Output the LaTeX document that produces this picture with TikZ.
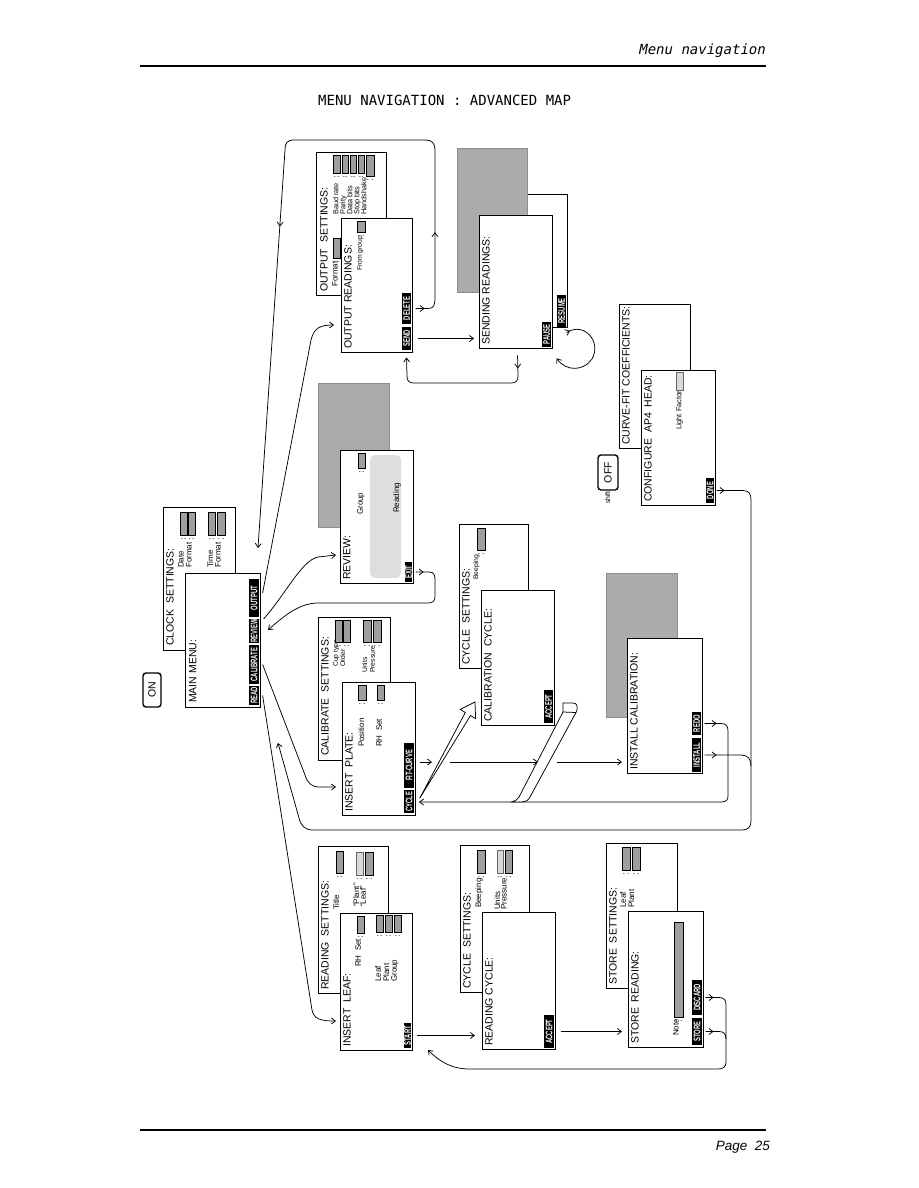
\documentclass[tikz,border=0pt]{standalone}
\usepackage{fontspec}
\setmainfont{Liberation Sans}
\newfontfamily\monof{DejaVu Sans Mono}
\usepackage{graphicx}
\usetikzlibrary{arrows.meta,decorations.markings,fit,calc}

\newcommand\ttlf{\fontsize{10.5}{12}\selectfont}
\newcommand\lblf{\fontsize{8}{9}\selectfont}
\newcommand\smlf{\fontsize{6.8}{7}\selectfont}
\newcommand\smlbf{\fontsize{7.3}{8}\selectfont}
\newcommand\btnf{\fontsize{9.5}{10}\selectfont\bfseries}

\tikzset{
 scr/.style={draw, line width=0.9pt, fill=white, inner sep=0pt},
 shd/.style={fill=black!33, draw=black!45, line width=0.3pt, inner sep=0pt},
 btnfill/.style={fill=black, inner sep=0pt},
 btxt/.style={rotate=90, text=white, font=\btnf, inner sep=0pt},
 ttl/.style={rotate=90, anchor=north west, inner sep=0pt, font=\ttlf},
 lbl/.style={rotate=90, anchor=north west, inner sep=0pt, font=\lblf},
 sml/.style={rotate=90, anchor=north west, inner sep=0pt, font=\smlf},
 smlb/.style={rotate=90, anchor=north west, inner sep=0pt, font=\smlbf},
 fld/.style={draw, line width=0.4pt, fill=black!38},
 lfld/.style={draw=black!60, line width=0.4pt, fill=black!15},
 conn/.style={line width=0.75pt},
 arr/.style={conn, -{Straight Barb[length=4pt,width=6pt]}},
 midarr/.style={postaction={decorate,decoration={markings,mark=at position #1 with {\arrow{Straight Barb[length=4pt,width=6pt]}}}}},
 keyb/.style={draw, line width=1.4pt, rounded corners=3pt, inner sep=0pt},
}

\newcommand\scrbox[5]{\node[scr, fit={(#2,#3)(#4,#5)}] (#1) {};}
\newcommand\btnbox[6]{\node[btnfill, fit={(#2,#3)(#4,#5)}] (#1) {};\node[btxt] (#1-t) at (#1.center) {\scalebox{0.62}[1]{#6}};}
\newcommand\fieldbox[5][fld]{\draw[#1] (#2,#3) rectangle (#4,#5);\fill ($(#2,#5)+(1.8,3.5)$) circle (0.5pt) ($(#4,#5)+(-1.8,3.5)$) circle (0.5pt);}

\begin{document}
\begin{tikzpicture}[x=1pt,y=-1pt]
\fill[white] (0,0) rectangle (918,1188);
\useasboundingbox (0,0) rectangle (918,1188);

% ---------- page header / footer ----------
\node[font=\monof\itshape\fontsize{14}{16}\selectfont, anchor=base east, inner sep=0pt] (hdr) at (766,55) {Menu navigation};
\draw[line width=1.1pt] (140,66) -- (766,66);
\node[font=\monof\fontsize{14}{16}\selectfont, anchor=base west, inner sep=0pt] (title) at (318,106) {MENU NAVIGATION : ADVANCED MAP};
\draw[line width=1.1pt] (140,1130) -- (766,1130);
\node[font=\itshape\fontsize{13.5}{15}\selectfont, anchor=base east, inner sep=0pt] (pg) at (770,1150) {Page\ \ 25};

% ---------- ON key ----------
\node[keyb, fit={(143,673)(161,707)}] (onkey) {};
\node[rotate=90, font=\ttlf, inner sep=0pt] (onkey-t) at (onkey.center) {ON};

% ---------- CLOCK SETTINGS / MAIN MENU ----------
\scrbox{clockset}{163}{507}{235}{650}
\node[ttl] (clockset-t) at (166,646) {CLOCK\ \ SETTINGS:};
\node[lbl] (cl1) at (178,568) {Date};
\node[lbl] (cl2) at (186,568) {Format};
\node[lbl] (cl3) at (207,568) {Time};
\node[lbl] (cl4) at (215,568) {Format};
\fieldbox{180}{512}{187}{535}
\fieldbox{188}{512}{195}{535}
\fieldbox{208}{512}{215}{535}
\fieldbox{217}{512}{225}{535}

\scrbox{mainmenu}{185}{573}{260}{707}
\node[ttl] (mainmenu-t) at (189,703) {MAIN MENU:};
\btnbox{readb}{249}{686}{259.4}{705}{READ}
\btnbox{calb}{249}{645}{259.4}{684}{CALIBRATE}
\btnbox{revb}{249}{619}{259.4}{643}{REVIEW}
\btnbox{outb}{249}{579}{259.4}{617}{OUTPUT}

% ---------- OUTPUT SETTINGS / OUTPUT READINGS ----------
\scrbox{outset}{316}{152}{386}{295}
\node[ttl] (outset-t) at (320,292) {OUTPUT\ \ SETTINGS:};
\node[lbl] (fmt) at (332,287) {Format};
\fieldbox{333}{238}{340}{258}
\node[smlb] (o1) at (333,215) {Baud rate};
\node[smlb] (o2) at (340,215) {Parity};
\node[smlb] (o3) at (347,215) {Data bits};
\node[smlb] (o4) at (354,215) {Stop bits};
\node[smlb] (o5) at (361,215) {Handshake};
\fieldbox{333}{155}{340}{173}
\fieldbox{342}{155}{348}{173}
\fieldbox{350}{155}{356}{173}
\fieldbox{358}{155}{364}{173}
\fieldbox{366}{155}{374}{176}

\scrbox{outread}{341}{218}{412}{352}
\node[ttl] (outread-t) at (344,349) {OUTPUT READINGS:};
\node[sml] (fromg) at (357,271) {From group};
\fieldbox{357}{221}{365}{232}
\btnbox{sendb}{402}{327}{411.4}{350}{SEND}
\btnbox{delb}{402}{293}{411.4}{324}{DELETE}

% ---------- SENDING READINGS ----------
\scrbox{pausebox}{500}{194}{567}{327}
\node[shd, fit={(457,148)(527,292)}] (sendshd) {};
\scrbox{sending}{479}{215}{552}{348}
\node[ttl] (sending-t) at (482,345) {SENDING READINGS:};
\btnbox{pauseb}{542}{322}{551.4}{347}{PAUSE}
\btnbox{resumeb}{557}{295}{566.4}{326.5}{RESUME}

% ---------- REVIEW ----------
\node[shd, fit={(318,383)(389,527)}] (revshd) {};
\scrbox{review}{340}{450}{413}{583}
\node[ttl] (review-t) at (343,580) {REVIEW:};
\fill[black!13, rounded corners=5pt] (370,455) rectangle (401,578);
\node[lbl] (grp) at (357,515) {Group};
\fieldbox{358}{453}{365}{468}
\node[lbl] (rdg) at (393,513) {Reading};
\btnbox{exitb}{405}{562}{412.4}{582}{EXIT}

% ---------- CURVE-FIT / CONFIGURE ----------
\scrbox{cfc}{619}{304}{690}{448}
\node[ttl] (cfc-t) at (622,445) {CURVE-FIT COEFFICIENTS:};
\scrbox{conf}{641}{370}{715}{505}
\node[ttl] (conf-t) at (644,502) {CONFIGURE\ \ AP4\ \ HEAD:};
\node[smlb] (lf) at (676,430) {Light Factor:};
\fieldbox[lfld]{676}{372}{683}{390}
\btnbox{doneb}{706}{478}{714.4}{503}{DONE}
\node[keyb, fit={(598,455)(618,490)}] (offkey) {};
\node[rotate=90, font=\ttlf, inner sep=0pt] (offkey-t) at (offkey.center) {OFF};
\node[sml] (shift) at (605,504) {shift};

% ---------- CALIBRATE SETTINGS / INSERT PLATE ----------
\scrbox{calset}{318}{617}{390}{760}
\node[ttl] (calset-t) at (321,756) {CALIBRATE\ \ SETTINGS:};
\node[sml] (c1) at (333,667) {Cup type};
\node[sml] (c2) at (340,667) {Order};
\node[sml] (c3) at (362,673) {Units};
\node[sml] (c4) at (370,673) {Pressure};
\fieldbox{335}{620}{342}{642}
\fieldbox{343}{620}{350}{642}
\fieldbox{363}{620}{371}{642}
\fieldbox{373}{620}{381}{642}

\scrbox{insplate}{342}{682}{415}{815}
\node[ttl] (insplate-t) at (345,812) {INSERT\ \ PLATE:};
\node[lbl] (pos) at (358,747) {Position};
\fieldbox{358}{685}{366}{700}
\node[lbl] (rhs1) at (376,747) {RH\ \ Set};
\fieldbox{377}{685}{384}{700}
\btnbox{cycb}{404}{790}{414.4}{813}{CYCLE}
\btnbox{fitb}{404}{743}{414.4}{788}{FIT-CURVE}

% ---------- CYCLE SETTINGS / CALIBRATION CYCLE ----------
\scrbox{cycset1}{459}{524}{528}{668}
\node[ttl] (cycset1-t) at (462,665) {CYCLE\ \ SETTINGS:};
\node[sml] (beep1) at (473,580) {Beeping};
\fieldbox{477}{528}{485}{550}
\scrbox{calcyc}{481}{590}{554}{725}
\node[ttl] (calcyc-t) at (484,722) {CALIBRATION\ \ CYCLE:};
\btnbox{acc1}{544}{690}{553.4}{723}{ACCEPT}

% ---------- INSTALL CALIBRATION ----------
\node[shd, fit={(606,573)(677,717)}] (instshd) {};
\scrbox{install}{627}{638}{702}{773}
\node[ttl] (install-t) at (630,770) {INSTALL CALIBRATION:};
\btnbox{installb}{692}{738}{701.4}{772}{INSTALL}
\btnbox{redob}{692}{712}{701.4}{735}{REDO}

% ---------- READING SETTINGS / INSERT LEAF ----------
\scrbox{readset}{318}{846}{388}{993}
\node[ttl] (readset-t) at (321,990) {READING\ \ SETTINGS:};
\node[lbl] (tl) at (333,910) {Title};
\fieldbox{336}{851}{343}{873}
\node[lbl] (qp) at (353,907) {“Plant”};
\node[lbl] (ql) at (360,907) {“Leaf”};
\fieldbox[lfld]{356}{852}{363}{875}
\fieldbox{365}{852}{373}{875}

\scrbox{insleaf}{340}{913}{412}{1050}
\node[ttl] (insleaf-t) at (343,1047) {INSERT\ \ LEAF:};
\node[lbl] (rhs2) at (355,967) {RH\ \ Set};
\fieldbox{357}{916}{364}{933}
\node[lbl] (lleaf) at (375,982) {Leaf};
\node[lbl] (lplant) at (383,982) {Plant};
\node[lbl] (lgroup) at (391,982) {Group};
\fieldbox{376}{915}{383}{932}
\fieldbox{385}{915}{392}{932}
\fieldbox{394}{915}{401}{932}
\btnbox{startb}{404}{1023}{411.4}{1048}{START}

% ---------- CYCLE SETTINGS / READING CYCLE ----------
\scrbox{cycset2}{460}{845}{529}{992}
\node[ttl] (cycset2-t) at (463,989) {CYCLE\ \ SETTINGS:};
\node[lbl] (beep2) at (475,908) {Beeping};
\fieldbox{477}{850}{485}{873}
\node[lbl] (units2) at (494,910) {Units};
\node[lbl] (press2) at (501,910) {Pressure};
\fieldbox[lfld]{497}{850}{503}{873}
\fieldbox{505}{850}{512}{873}
\scrbox{readcyc}{482}{912}{555}{1049}
\node[ttl] (readcyc-t) at (485,1046) {READING CYCLE:};
\btnbox{acc2}{544}{1015}{554.4}{1048}{ACCEPT}

% ---------- STORE SETTINGS / STORE READING ----------
\scrbox{storeset}{606}{843}{677}{988}
\node[ttl] (storeset-t) at (609,985) {STORE\ \ SETTINGS:};
\node[lbl] (sleaf) at (620,908) {Leaf};
\node[lbl] (splant) at (628,908) {Plant};
\fieldbox{622}{847}{630}{870}
\fieldbox{632}{847}{640}{870}
\scrbox{storeread}{628}{911}{703}{1047}
\node[ttl] (storeread-t) at (631,1044) {STORE\ \ READING:};
\node[lbl] (notes) at (673,1036) {Notes};
\fieldbox{674}{922}{683}{1017}
\btnbox{storeb}{692}{1018}{702.4}{1045}{STORE}
\btnbox{discb}{692}{980}{702.4}{1015}{DISCARD}

% ---------- free-end coordinates ----------
\coordinate (outin) at (334,325);
\coordinate (mmtop) at (258,548);
\coordinate (sendin) at (474,338.5);
\coordinate (revin) at (336,555);
\coordinate (mmin) at (268,630);
\coordinate (ipin) at (336,787);
\coordinate (ilin) at (336,1021);
\coordinate (retend) at (278,743);
\coordinate (joinI) at (751,766);
\coordinate (cycin) at (419,802);
\coordinate (instin) at (622,762);
\coordinate (rcin) at (475,1035.5);
\coordinate (srin) at (622,1031.5);
\coordinate (ilret) at (428,1050);
\coordinate (joinS) at (726,1039);

% ---------- connectors ----------
\draw[arr] ([xshift=3pt,yshift=5pt]outb.east) -- (311,340) .. controls (314,328) and (320,325) .. (outin);
\draw[arr, midarr=9pt, midarr=93pt, midarr=415pt] ([xshift=4pt]delb.east) -- (428,308.5) .. controls (434,308.5) and (435,305) .. (435,298) -- (435,150) .. controls (435,143) and (432,140) .. (425,140) -- (294,140) .. controls (287,140) and (285,143) .. (285,150) -- (mmtop);
\draw[arr] ([xshift=6pt]sendb.east) -- (sendin);
\draw[arr, midarr=13pt] ($(sending.south west)+(39,7)$) -- (518,376) .. controls (518,381) and (516,383) .. (511,383) -- (414,383) .. controls (409,383) and (407,381) .. (407,376) -- ($(outread.south west)+(66,5)$);
\draw[arr, midarr=4pt] ($(resumeb.south east)+(0,6)$) .. controls (584,321) and (602,342) .. (592,359) .. controls (584,371) and (566,372) .. ($(pauseb.south east)+(5,11)$);
\draw[arr] ([xshift=4pt,yshift=12pt]revb.east) .. controls (285,595) and (302,560) .. (318,557) -- (revin);
\draw[arr, midarr=8pt] ([xshift=3pt]exitb.east) -- (429,572) .. controls (434,572) and (435,575) .. (435,580) -- (435,596) .. controls (435,601) and (433,603) .. (428,603) -- (318,603) .. controls (300,603) and (285,615) .. (mmin);
\draw[arr] ([xshift=3pt]calb.east) -- (305,775) .. controls (308,784) and (312,787) .. (320,787) -- (ipin);
\draw[arr] ([xshift=3pt]readb.east) -- (312,1010) .. controls (314,1019) and (320,1021) .. (ilin);
\draw[arr, midarr=8pt] ([xshift=2pt]doneb.east) -- (743,490.5) .. controls (749,490.5) and (751,494) .. (751,500) -- (751,821) .. controls (751,827) and (748,830) .. (742,830) -- (313,830) .. controls (305,830) and (301,826) .. (299,818) -- (retend);
\draw[conn, midarr=12pt] ([xshift=3pt]installb.east) -- (741,755) .. controls (748,755) and (751,759) .. (joinI);
\draw[arr, midarr=12pt] ([xshift=3pt]redob.east) -- (721,723.5) .. controls (726,723.5) and (728,726) .. (728,731) -- (728,796) .. controls (728,800) and (726,802) .. (721,802) -- (cycin);
\draw[arr] ([xshift=5pt,yshift=3.5pt]fitb.east) -- (432,762);
\draw[arr] (450,762) -- (538,762);
\draw[arr] (557,762) -- (instin);
\draw[conn, fill=white] (563,712) -- (563,703) -- (573,703) .. controls (577,703) and (577.5,706) .. (577,710) -- (576,712.5) -- (530,797) .. controls (528,801) and (525,802) .. (520,802) -- (512,802) .. controls (515,801) and (517,800) .. (519,797) -- (563,712) -- (576,712.5);
\draw[conn, fill=white, line join=miter] ([xshift=5pt,yshift=3pt]cycb.east) -- (465.3,712.5) -- (460.2,709.4) -- (475,702) -- (475.6,718.6) -- (470.5,715.5) -- cycle;
\draw[arr] ([xshift=5pt]startb.east) -- (rcin);
\draw[arr] ([xshift=6pt]acc2.east) -- (srin);
\draw[arr, midarr=8pt] ([xshift=3pt]discb.east) -- (719,997.5) .. controls (724,997.5) and (726,1000) .. (726,1005) -- (726,1062) .. controls (726,1067) and (723,1069) .. (718,1069) -- (470,1069) .. controls (452,1069) and (440,1062) .. (ilret);
\draw[conn, midarr=8pt] ([xshift=3pt]storeb.east) -- (719,1031.5) .. controls (724,1031.5) and (726,1034) .. (joinS);

\end{tikzpicture}
\end{document}
